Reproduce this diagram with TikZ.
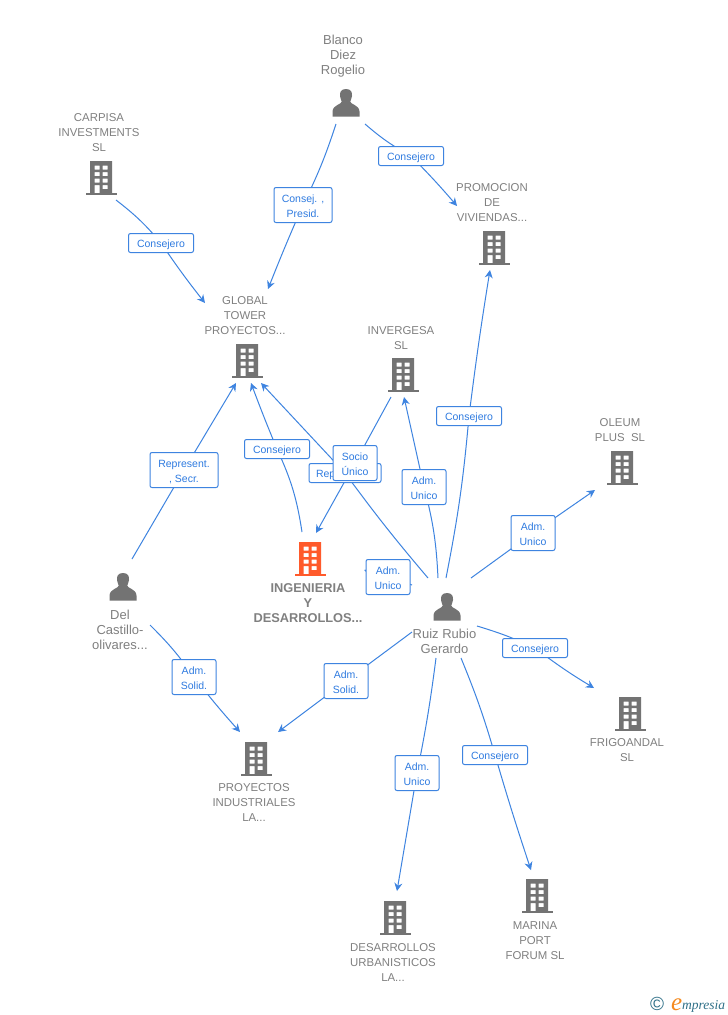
\documentclass[tikz,border=0pt]{standalone}
\usepackage{fontspec}
\setmainfont{Liberation Sans}
\usetikzlibrary{arrows.meta}
\definecolor{lnk}{HTML}{3E84E0}
\definecolor{lbl}{HTML}{2F7BE0}
\definecolor{ico}{HTML}{737373}
\definecolor{hot}{HTML}{FF5A2B}
\definecolor{txt}{HTML}{808080}
\definecolor{logoT}{HTML}{2F7088}
\definecolor{logoO}{HTML}{F58A1F}
\pgfdeclarelayer{under}
\pgfsetlayers{under,main}
\tikzset{
  x=1pt,y=-1pt,
  conn/.style={draw=lnk,line width=1pt,-{Stealth[length=8pt,width=8pt]}},
  edgebox/.style={draw=lnk,line width=1pt,fill=white,rounded corners=2pt,inner sep=0pt,text=lbl,
    font=\fontsize{10.5}{15}\selectfont,align=center,minimum height=19pt,text height=9.5pt,text depth=0.8pt},
  onebox/.style={edgebox,minimum width=65pt},
  tallbox/.style={edgebox,minimum height=35pt,text height=24.2pt,text depth=0pt},
  twobox/.style={tallbox,minimum width=44pt},
  captxt/.style={text=txt,font=\fontsize{11.4}{15}\selectfont,align=center,inner sep=0pt,yshift=-1pt},
  nametxt/.style={captxt,font=\fontsize{13}{15}\selectfont},
  iconbox/.style={inner sep=0pt,minimum width=31pt,minimum height=34pt},
  personbox/.style={inner sep=0pt,minimum width=27pt,minimum height=28pt}
}
\newcommand{\bldg}[4][ico]{%
  \node[iconbox] (#2) at (#3,#4) {};
  \begin{scope}[shift={(#3,#4)}]
    \fill[#1,even odd rule]
      (-11,-17) rectangle (11,15)
      (-6.5,-12.5) rectangle (-1.5,-8.5) (1.5,-12.5) rectangle (6.5,-8.5)
      (-6.5,-6) rectangle (-1.5,-2) (1.5,-6) rectangle (6.5,-2)
      (-6.5,0.5) rectangle (-1.5,4.5) (1.5,0.5) rectangle (6.5,4.5)
      (-6.5,7) rectangle (-1.5,15) (1.5,7) rectangle (6.5,11);
    \fill[#1] (-15.5,15) rectangle (15.5,17);
  \end{scope}}
\newcommand{\persona}[3]{%
  \node[personbox] (#1) at (#2,#3) {};
  \begin{scope}[shift={(#2,#3)}]
    \fill[ico] (0,-14) .. controls (-5,-14) and (-6.5,-10.5) .. (-6,-7)
      .. controls (-5.7,-4) and (-4.5,-2.5) .. (-4.2,-1.5)
      .. controls (-4.2,1.5) and (-13,1.5) .. (-13.5,8.5) -- (-13.5,13.5) -- (13.5,13.5) -- (13.5,8.5)
      .. controls (13,1.5) and (4.2,1.5) .. (4.2,-1.5)
      .. controls (4.5,-2.5) and (5.7,-4) .. (6,-7)
      .. controls (6.5,-10.5) and (5,-14) .. (0,-14) -- cycle;
  \end{scope}}
\begin{document}
\begin{tikzpicture}
\useasboundingbox (0,0) rectangle (728,1015);
\begin{pgfonlayer}{under}
  \fill[white] (0,0) rectangle (728,1015);
\end{pgfonlayer}
% icons
\bldg{carpisa}{101}{178}
\bldg{globalt}{247}{361}
\bldg{invergesa}{403}{375}
\bldg{promocion}{494}{248}
\bldg{oleum}{622}{468}
\bldg[hot]{ingenieria}{310}{559}
\bldg{frigo}{630}{714}
\bldg{marina}{537}{896}
\bldg{desarrollos}{395}{918}
\bldg{proyectos}{256}{759}
\persona{blanco}{346}{103}
\persona{castillo}{123}{587}
\persona{ruiz}{447}{607}
% captions
\node[captxt] (tcarpisa) at (99,132) {CARPISA\\INVESTMENTS\\SL};
\node[captxt] (tglobal) at (245,315) {GLOBAL\\TOWER\\PROYECTOS...};
\node[captxt] (tinver) at (401,337) {INVERGESA\\SL};
\node[captxt] (tpromo) at (492,202) {PROMOCION\\DE\\VIVIENDAS...};
\node[captxt] (toleum) at (620,429) {OLEUM\\PLUS\ \ SL};
\node[captxt,font=\fontsize{12.8}{15}\selectfont\bfseries] (tingen) at (308,602) {INGENIERIA\\Y\\DESARROLLOS...};
\node[captxt] (tfrigo) at (627,749) {FRIGOANDAL\\SL};
\node[captxt] (tmarina) at (535,940) {MARINA\\PORT\\FORUM SL};
\node[captxt] (tdesa) at (393,962) {DESARROLLOS\\URBANISTICOS\\LA...};
\node[captxt] (tproy) at (254,802) {PROYECTOS\\INDUSTRIALES\\LA...};
\node[nametxt] (tblanco) at (343,55.500) {Blanco\\Diez\\Rogelio};
\node[nametxt] (tcast) at (120,629) {Del\\Castillo-\\olivares...};
\node[nametxt] (truiz) at (444.500,640.500) {Ruiz Rubio\\Gerardo};
% connector ends
\coordinate (a1) at (116,200);  \coordinate (b1) at (205,303);
\coordinate (a2) at (336,124);  \coordinate (b2) at (268,289);
\coordinate (a3) at (365,124);  \coordinate (b3) at (457,206);
\coordinate (a4) at (446,578);  \coordinate (b4) at (490,270);
\coordinate (a5) at (132,559);  \coordinate (b5) at (236,383);
\coordinate (a6) at (302,532);  \coordinate (b6) at (251,383);
\coordinate (a7) at (428,578);  \coordinate (b7) at (261,383);
\coordinate (a8) at (391,397);  \coordinate (b8) at (316,533);
\coordinate (a9) at (438,578);  \coordinate (b9) at (404,397);
\coordinate (a10) at (412,585); \coordinate (b10) at (364,570);
\coordinate (a11) at (471,578); \coordinate (b11) at (595,490);
\coordinate (a12) at (477,626); \coordinate (b12) at (594,688);
\coordinate (a13) at (461,658); \coordinate (b13) at (531,870);
\coordinate (a14) at (436,658); \coordinate (b14) at (397,891);
\coordinate (a15) at (412,632); \coordinate (b15) at (278,732);
\coordinate (a16) at (150,625); \coordinate (b16) at (240,732);
% connector labels
\node[onebox] (l1) at (161,243) {Consejero};
\node[tallbox,minimum width=58pt] (l2) at (303,205) {Consej. ,\\Presid.};
\node[onebox] (l3) at (411,156) {Consejero};
\node[onebox] (l4) at (469,416) {Consejero};
\node[tallbox,minimum width=68pt] (l5) at (184,470) {Represent.\\, Secr.};
\node[onebox] (l6) at (277,449) {Consejero};
\node[edgebox,minimum width=72pt,text width=58pt,align=left] (l7) at (345,473) {Rep};
\node[twobox] (l8) at (355,463) {Socio\\Único};
\node[twobox] (l9) at (424,487) {Adm.\ \\Unico};
\node[twobox] (l10) at (388,577) {Adm.\ \\Unico};
\node[twobox] (l11) at (533,533) {Adm.\ \\Unico};
\node[onebox] (l12) at (535,648) {Consejero};
\node[onebox] (l13) at (495,755) {Consejero};
\node[twobox] (l14) at (417,773) {Adm.\ \\Unico};
\node[twobox] (l15) at (346,681) {Adm.\\Solid.};
\node[twobox] (l16) at (194,677) {Adm.\\Solid.};
% logo
\node[inner sep=0pt,text=logoT,anchor=base west] (logoc) at (650,1010) {\fontsize{19}{19}\selectfont\copyright};
\node[inner sep=0pt,text=logoO,anchor=base west] (logoe) at (671,1010) {\fontsize{25}{25}\selectfont\fontspec{Liberation Serif}\itshape e};
\node[inner sep=0pt,text=logoT,anchor=base west] (logom) at (682,1009) {\fontsize{13.500}{15}\selectfont\fontspec{Liberation Serif}\itshape mpresia};
% connectors
\begin{pgfonlayer}{under}
  \draw[conn] (a1) to[bend left=6] (l1.center) to[bend right=2] (b1);
  \draw[conn] (a2) to[bend left=4] (l2.center) to[bend right=1] (b2);
  \draw[conn] (a3) to[bend right=6] (l3.center) to[bend left=2] (b3);
  \draw[conn] (a4) to[bend right=3] (l4.center) to[bend left=1] (b4);
  \draw[conn] (a5) -- (l5.center) -- (b5);
  \draw[conn] (a6) to[bend right=8] (l6.center) to[bend left=1] (b6);
  \draw[conn] (a7) to[bend left=2] (l7.center) -- (b7);
  \draw[conn] (a8) -- (l8.center) -- (b8);
  \draw[conn] (a9) to[bend right=6] (l9.center) -- (b9);
  \draw[conn] (a10) -- (l10.center) -- (b10);
  \draw[conn] (a11) -- (l11.center) -- (b11);
  \draw[conn] (a12) to[bend left=4] (l12.center) to[bend right=3] (b12);
  \draw[conn] (a13) to[bend left=3] (l13.center) to[bend right=1] (b13);
  \draw[conn] (a14) to[bend left=2] (l14.center) -- (b14);
  \draw[conn] (a15) -- (l15.center) -- (b15);
  \draw[conn] (a16) to[bend left=5] (l16.center) to[bend right=2] (b16);
\end{pgfonlayer}
\end{tikzpicture}
\end{document}
